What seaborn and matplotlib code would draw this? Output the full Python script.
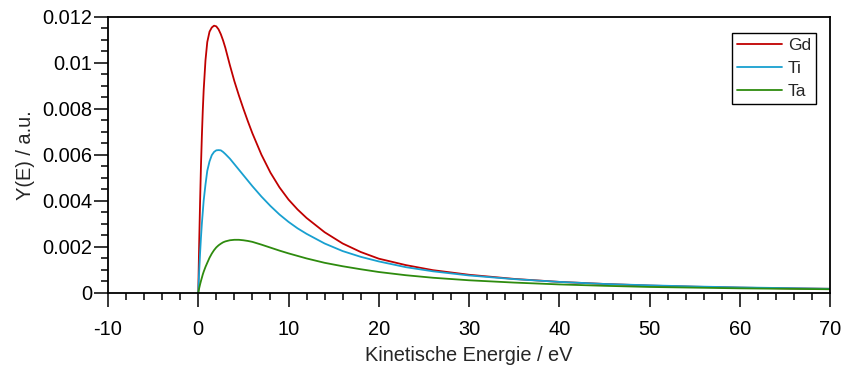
import numpy as np
import pandas as pd
import matplotlib
matplotlib.use("Agg")
import matplotlib.pyplot as plt
import seaborn as sns
from matplotlib.ticker import MultipleLocator, FuncFormatter

# Energy grid (eV) and values
energy = [0, 0.1, 0.2, 0.3, 0.4, 0.5, 0.6, 0.8, 1.0, 1.25, 1.5, 1.75, 2.0,
          2.25, 2.5, 2.75, 3.0, 3.5, 4.0, 4.5, 5, 5.5, 6, 7, 8, 9, 10, 11,
          12, 14, 16, 18, 20, 23, 26, 30, 35, 40, 45, 50, 55, 60, 65, 70]

y_gd = [0, 0.0021, 0.0039, 0.0055, 0.0068, 0.0079, 0.0088, 0.0101, 0.0109,
        0.01135, 0.01153, 0.01161, 0.01158, 0.01145, 0.01124, 0.01097,
        0.01065, 0.0099, 0.0092, 0.00858, 0.0080, 0.00745, 0.00693, 0.0060,
        0.00522, 0.00458, 0.00405, 0.00362, 0.00325, 0.00263, 0.00214,
        0.00177, 0.00148, 0.0012, 0.00098, 0.00078, 0.0006, 0.00047,
        0.00038, 0.00031, 0.00026, 0.00022, 0.00019, 0.00017]

y_ti = [0, 0.0009, 0.0017, 0.0024, 0.003, 0.0035, 0.0040, 0.0047, 0.0053,
        0.00571, 0.00598, 0.00612, 0.00619, 0.0062, 0.00619, 0.00612,
        0.00603, 0.00583, 0.00559, 0.00535, 0.00511, 0.00487, 0.00463,
        0.00418, 0.00377, 0.0034, 0.00308, 0.0028, 0.00256, 0.00214,
        0.00181, 0.00156, 0.00136, 0.00111, 0.00093, 0.00075, 0.00059,
        0.00047, 0.00038, 0.00032, 0.00027, 0.00023, 0.0002, 0.00017]

y_ta = [0, 0.00019, 0.00036, 0.00051, 0.00065, 0.00079, 0.00091, 0.00112,
        0.0013, 0.00152, 0.0017, 0.00185, 0.00197, 0.00206, 0.00213,
        0.00219, 0.00223, 0.00228, 0.0023, 0.0023, 0.00228, 0.00225,
        0.00221, 0.00209, 0.00196, 0.00183, 0.00171, 0.0016, 0.00149,
        0.0013, 0.00115, 0.00102, 0.0009, 0.00076, 0.00065, 0.00054,
        0.00044, 0.00036, 0.0003, 0.00025, 0.00022, 0.00019, 0.00017,
        0.00015]

elements = ["Gd", "Ti", "Ta"]
colors = {"Gd": "#C00000", "Ti": "#18A0D0", "Ta": "#2E8B0E"}

x_ticks = [-10, 0, 10, 20, 30, 40, 50, 60, 70]
y_ticks = [0, 0.002, 0.004, 0.006, 0.008, 0.01, 0.012]


def main():
    sns.set_theme(style="ticks")
    plt.rcParams["font.family"] = ["Liberation Sans", "DejaVu Sans"]

    df = pd.DataFrame({
        "E": energy * 3,
        "Y": y_gd + y_ti + y_ta,
        "Element": [e for e in elements for _ in energy],
    })

    fig = plt.figure(figsize=(8.41, 3.65), dpi=100)
    ax = fig.add_axes([108 / 841, 1 - 292.7 / 365, 722 / 841, 276 / 365])

    sns.lineplot(data=df, x="E", y="Y", hue="Element", hue_order=elements,
                 palette=colors, linewidth=1.3, ax=ax, sort=False)

    ax.set_xlim(-10, 70)
    ax.set_ylim(0, 0.012)
    ax.set_xticks(x_ticks)
    ax.set_yticks(y_ticks)
    ax.xaxis.set_minor_locator(MultipleLocator(2))
    ax.yaxis.set_minor_locator(MultipleLocator(0.0005))
    ax.yaxis.set_major_formatter(FuncFormatter(lambda v, p: f"{v:g}"))
    ax.xaxis.set_major_formatter(FuncFormatter(lambda v, p: f"{v:g}"))

    for s in ax.spines.values():
        s.set_linewidth(1.3)
        s.set_color("black")
    ax.tick_params(which="major", direction="out", length=10, width=1.1,
                   labelsize=14.4, colors="black")
    ax.tick_params(which="minor", direction="out", length=5, width=1.1,
                   colors="black")
    ax.tick_params(axis="x", which="major", pad=10)
    ax.tick_params(axis="y", which="major", pad=1.5)

    ax.set_xlabel("Kinetische Energie / eV", fontsize=14.4, labelpad=5)
    ax.set_ylabel("Y(E) / a.u.", fontsize=14.4, labelpad=5)

    leg = ax.legend(loc="upper right",
                    bbox_to_anchor=(1 - 14 / 722, 1 - 16 / 276),
                    borderaxespad=0, fontsize=12.5, frameon=True,
                    fancybox=False, framealpha=1, edgecolor="black",
                    handlelength=2.6, handletextpad=0.3, labelspacing=0.45,
                    borderpad=0.3, title=None)
    leg.get_frame().set_linewidth(1.0)
    for line in leg.get_lines():
        line.set_linewidth(1.3)

    fig.savefig("out.png", dpi=100)
    plt.close(fig)


if __name__ == "__main__":
    main()
